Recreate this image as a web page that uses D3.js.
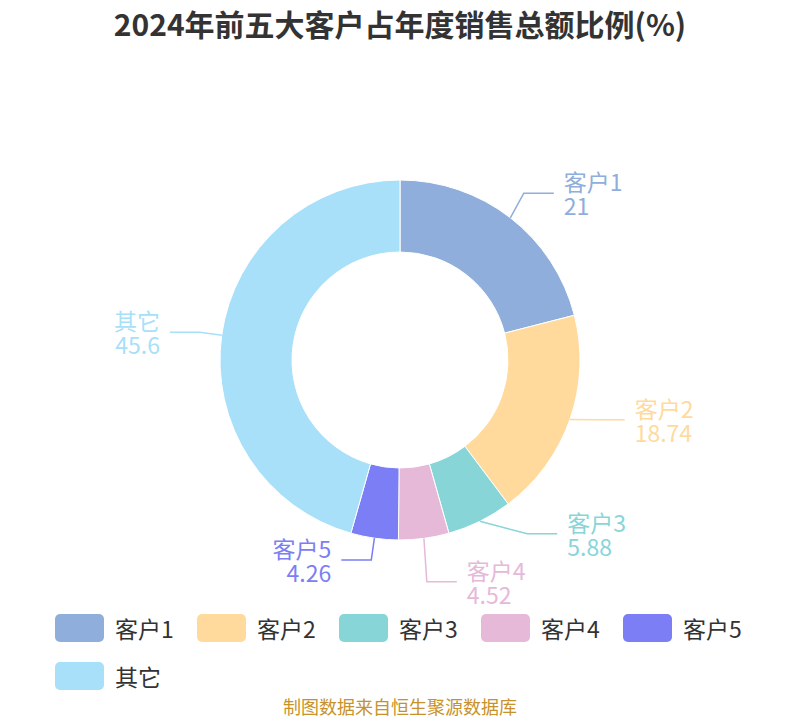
<!DOCTYPE html>
<html>
<head>
<meta charset="UTF-8">
<title>2024年前五大客户占年度销售总额比例</title>
<style>
  body { margin: 0; background: #fff; }
  svg { display: block; font-family: "Noto Sans CJK SC", "Noto Sans", sans-serif; }
</style>
</head>
<body>
<svg id="chart" width="800" height="720"></svg>

<script src="https://cdn.jsdelivr.net/npm/d3@7"></script>
<script>
// data
let names = ["客户1", "客户2", "客户3", "客户4", "客户5", "其它"];
let values = [21, 18.74, 5.88, 4.52, 4.26, 45.6];
let colors = ["#8FAEDB", "#FFDA9C", "#88D5D8", "#E6B9D9", "#7B7EF5", "#A8DFF9"];

let width = 800, height = 720;
let cx = 400, cy = 360, outerR = 180, innerR = 108;

let svg = d3.select("#chart");

svg.append("text")
    .attr("x", width / 2)
    .attr("y", 23)
    .attr("text-anchor", "middle")
    .attr("dominant-baseline", "central")
    .attr("font-size", 30)
    .attr("font-weight", "bold")
    .attr("fill", "#333")
    .text("2024年前五大客户占年度销售总额比例(%)");

let rows = names.map((n, i) => ({ name: n, value: values[i], color: colors[i] }));

let pie = d3.pie().value(d => d.value).sort(null);
let arc = d3.arc().innerRadius(innerR).outerRadius(outerR);
let arcs = pie(rows);

let g = svg.append("g").attr("transform", `translate(${cx},${cy})`);
g.selectAll("path")
    .data(arcs)
    .enter()
    .append("path")
    .attr("d", arc)
    .attr("fill", d => d.data.color)
    .attr("stroke", "#fff")
    .attr("stroke-width", 1);

// label layout, roughly the way echarts places outer pie labels
let len = 22, len2 = 30, dist = 10, lineH = 24, labelH = 2 * lineH;

let labels = arcs.map(d => {
  let mid = (d.startAngle + d.endAngle) / 2;
  let nx = Math.sin(mid), ny = -Math.cos(mid);
  let x1 = cx + outerR * nx, y1 = cy + outerR * ny;
  let x2 = x1 + nx * len, y2 = y1 + ny * len;
  let dir = nx < 0 ? -1 : 1;
  return { d: d, x1: x1, y1: y1, dir: dir, x: x2 + dir * (len2 + dist), y: y2 };
});

function adjustSide(list, dir) {
  if (list.length < 2) return;
  list.sort((a, b) => a.y - b.y);
  let total = 0;
  for (let i = 1; i < list.length; i++) {
    let minY = list[i - 1].y + labelH;
    if (list[i].y < minY) { total += minY - list[i].y; list[i].y = minY; }
  }
  if (!total) return;
  // spread the shift over the whole side
  list.forEach(l => { l.y -= total / list.length; });
  // put the elbows back on an ellipse through the farthest label of each half
  [list.filter(l => l.y <= cy), list.filter(l => l.y > cy)].forEach(semi => {
    if (!semi.length) return;
    let far = semi.reduce((a, b) => Math.abs(b.y - cy) > Math.abs(a.y - cy) ? b : a);
    let rA = outerR + len;
    let fdx = far.x - cx - dir * (len2 + dist);
    let fdy = Math.abs(far.y - cy);
    let rB = Math.abs(fdx) < rA ? Math.sqrt(fdy * fdy / (1 - fdx * fdx / (rA * rA))) : rA;
    semi.forEach(l => {
      let dy = Math.abs(l.y - cy);
      let dx = Math.sqrt(Math.max(0, 1 - dy * dy / (rB * rB))) * rA;
      l.x = cx + dir * (dx + len2 + dist);
    });
  });
}
adjustSide(labels.filter(l => l.dir < 0), -1);
adjustSide(labels.filter(l => l.dir > 0), 1);

let lab = svg.append("g").selectAll("g")
    .data(labels)
    .enter()
    .append("g");

lab.append("polyline")
    .attr("fill", "none")
    .attr("stroke", l => l.d.data.color)
    .attr("stroke-width", 1.5)
    .attr("points", l => {
      let x3 = l.x - l.dir * dist;
      let x2 = x3 - l.dir * len2;
      return [[l.x1, l.y1], [x2, l.y], [x3, l.y]].map(p => p.join(",")).join(" ");
    });

let txt = lab.append("text")
    .attr("text-anchor", l => l.dir < 0 ? "end" : "start")
    .attr("font-size", 23)
    .attr("fill", l => l.d.data.color);
txt.append("tspan")
    .attr("x", l => l.x)
    .attr("y", l => l.y - lineH / 2)
    .attr("dominant-baseline", "central")
    .text(l => l.d.data.name);
txt.append("tspan")
    .attr("x", l => l.x)
    .attr("y", l => l.y + lineH / 2)
    .attr("dominant-baseline", "central")
    .text(l => l.d.data.value);

// legend
let perRow = 5, itemW = 142, boxW = 49, boxH = 28;
let legend = svg.append("g").attr("transform", "translate(55,614)");
let item = legend.selectAll("g")
    .data(rows)
    .enter()
    .append("g")
    .attr("transform", (d, i) => `translate(${(i % perRow) * itemW},${Math.floor(i / perRow) * 48})`);
item.append("rect")
    .attr("width", boxW)
    .attr("height", boxH)
    .attr("rx", 5)
    .attr("fill", d => d.color);
item.append("text")
    .attr("x", boxW + 11)
    .attr("y", boxH / 2)
    .attr("dominant-baseline", "central")
    .attr("font-size", 23)
    .attr("fill", "#333")
    .text(d => d.name);

svg.append("text")
    .attr("x", width / 2)
    .attr("y", 706)
    .attr("text-anchor", "middle")
    .attr("dominant-baseline", "central")
    .attr("font-size", 18)
    .attr("fill", "#C8922A")
    .text("制图数据来自恒生聚源数据库");
</script>
</body>
</html>
